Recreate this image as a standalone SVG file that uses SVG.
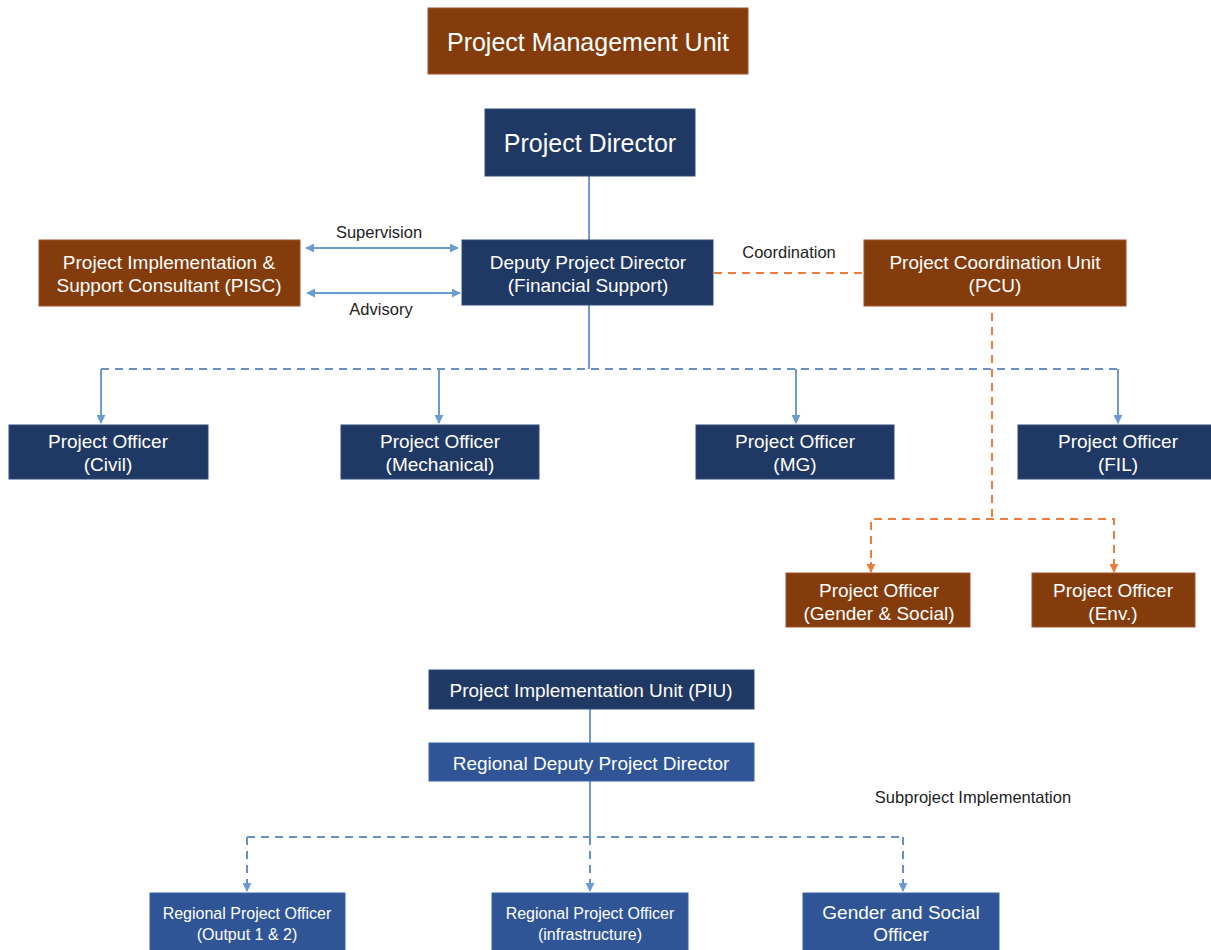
<svg xmlns="http://www.w3.org/2000/svg" width="1211" height="950" viewBox="0 0 1211 950">
<style>
text{font-family:"Liberation Sans",Arial,sans-serif;text-anchor:middle}
.t{fill:#fff;font-size:19px}
.l{fill:#222;font-size:16.5px}
.s{font-size:16px}
.big{font-size:25px}
.brown{fill:#843C0C;stroke:#A0522D;stroke-width:1}
.navy{fill:#1F3864;stroke:#2E4A7A;stroke-width:1}
.mid{fill:#2F5597;stroke:#3A63A8;stroke-width:1}
.bl{stroke:#6A9BD3;stroke-width:2;fill:none}
.bd{stroke:#6A8FC6;stroke-width:2;fill:none;stroke-dasharray:8 6}
.od{stroke:#E97E3E;stroke-width:2;fill:none;stroke-dasharray:8 6}
</style>
<defs>
<marker id="ab" viewBox="0 0 10 10" refX="9" refY="5" markerWidth="4.5" markerHeight="4.5" orient="auto-start-reverse"><path d="M0,0 L10,5 L0,10 z" fill="#6A9BD3"/></marker>
<marker id="ao" viewBox="0 0 10 10" refX="9" refY="5" markerWidth="4.5" markerHeight="4.5" orient="auto"><path d="M0,0 L10,5 L0,10 z" fill="#E97E3E"/></marker>
</defs>
<rect width="1211" height="950" fill="#fff"/>
<g id="connectors">
<line class="bl" x1="589" y1="176" x2="589" y2="240"/>
<line class="bl" x1="306" y1="248" x2="458" y2="248" marker-start="url(#ab)" marker-end="url(#ab)"/>
<line class="bl" x1="307" y1="293" x2="460" y2="293" marker-start="url(#ab)" marker-end="url(#ab)"/>
<line class="od" x1="714" y1="273" x2="862" y2="273"/>
<line class="bl" x1="589" y1="305" x2="589" y2="369"/>
<line class="bd" x1="101" y1="369" x2="1118" y2="369"/>
<line class="bl" x1="101" y1="369" x2="101" y2="423" marker-end="url(#ab)"/>
<line class="bl" x1="439" y1="369" x2="439" y2="423" marker-end="url(#ab)"/>
<line class="bl" x1="796" y1="369" x2="796" y2="423" marker-end="url(#ab)"/>
<line class="bl" x1="1118" y1="369" x2="1118" y2="423" marker-end="url(#ab)"/>
<line class="od" x1="992" y1="313" x2="992" y2="519"/>
<path class="od" d="M871,572 L871,519 L1114,519 L1114,572"/>
<line stroke="#E97E3E" stroke-width="2" x1="871" y1="562" x2="871" y2="572" marker-end="url(#ao)"/>
<line stroke="#E97E3E" stroke-width="2" x1="1114" y1="562" x2="1114" y2="572" marker-end="url(#ao)"/>
<line class="bl" x1="590" y1="709" x2="590" y2="743"/>
<line class="bl" x1="590" y1="781" x2="590" y2="837"/>
<line class="bd" x1="247" y1="837" x2="903" y2="837"/>
<path class="bd" d="M247,837 L247,891 M590,837 L590,891 M903,837 L903,891"/>
<line stroke="#6A8FC6" stroke-width="2" x1="247" y1="882" x2="247" y2="891" marker-end="url(#ab)"/>
<line stroke="#6A8FC6" stroke-width="2" x1="590" y1="882" x2="590" y2="891" marker-end="url(#ab)"/>
<line stroke="#6A8FC6" stroke-width="2" x1="903" y1="882" x2="903" y2="891" marker-end="url(#ab)"/>
<text class="l" x="379" y="238">Supervision</text>
<text class="l" x="381" y="315">Advisory</text>
<text class="l" x="789" y="258">Coordination</text>
<text class="l" x="973" y="803">Subproject Implementation</text>
</g>
<g id="pmu"><rect class="brown" x="428" y="8" width="320" height="66"/><text class="t big" x="588" y="51">Project Management Unit</text></g>
<g id="pd"><rect class="navy" x="485" y="109" width="210" height="67"/><text class="t big" x="590" y="152">Project Director</text></g>
<g id="dpd"><rect class="navy" x="462" y="240" width="251" height="65"/><text class="t" x="588" y="269">Deputy Project Director</text><text class="t" x="588" y="292">(Financial Support)</text></g>
<g id="pisc"><rect class="brown" x="39" y="240" width="261" height="66"/><text class="t" x="169" y="269">Project Implementation &amp;</text><text class="t" x="169" y="292">Support Consultant (PISC)</text></g>
<g id="pcu"><rect class="brown" x="864" y="240" width="262" height="66"/><text class="t" x="995" y="269">Project Coordination Unit</text><text class="t" x="995" y="292">(PCU)</text></g>
<g id="po-civil"><rect class="navy" x="9" y="425" width="199" height="54"/><text class="t" x="108" y="448">Project Officer</text><text class="t" x="108" y="471">(Civil)</text></g>
<g id="po-mech"><rect class="navy" x="341" y="425" width="198" height="54"/><text class="t" x="440" y="448">Project Officer</text><text class="t" x="440" y="471">(Mechanical)</text></g>
<g id="po-mg"><rect class="navy" x="696" y="425" width="198" height="54"/><text class="t" x="795" y="448">Project Officer</text><text class="t" x="795" y="471">(MG)</text></g>
<g id="po-fil"><rect class="navy" x="1018" y="425" width="194" height="54"/><text class="t" x="1118" y="448">Project Officer</text><text class="t" x="1118" y="471">(FIL)</text></g>
<g id="po-gender"><rect class="brown" x="786" y="573" width="184" height="54"/><text class="t" x="879" y="597">Project Officer</text><text class="t" x="879" y="620">(Gender &amp; Social)</text></g>
<g id="po-env"><rect class="brown" x="1032" y="573" width="163" height="54"/><text class="t" x="1113" y="597">Project Officer</text><text class="t" x="1113" y="620">(Env.)</text></g>
<g id="piu"><rect class="navy" x="429" y="670" width="325" height="39"/><text class="t" x="591" y="697">Project Implementation Unit (PIU)</text></g>
<g id="rdpd"><rect class="mid" x="429" y="743" width="325" height="38"/><text class="t" x="591" y="770">Regional Deputy Project Director</text></g>
<g id="rpo1"><rect class="mid" x="150" y="893" width="195" height="58"/><text class="t s" x="247" y="919">Regional Project Officer</text><text class="t s" x="247" y="940">(Output 1 &amp; 2)</text></g>
<g id="rpo2"><rect class="mid" x="492" y="893" width="196" height="58"/><text class="t s" x="590" y="919">Regional Project Officer</text><text class="t s" x="590" y="940">(infrastructure)</text></g>
<g id="gso"><rect class="mid" x="803" y="893" width="196" height="58"/><text class="t" x="901" y="919">Gender and Social</text><text class="t" x="901" y="941">Officer</text></g>
</svg>
